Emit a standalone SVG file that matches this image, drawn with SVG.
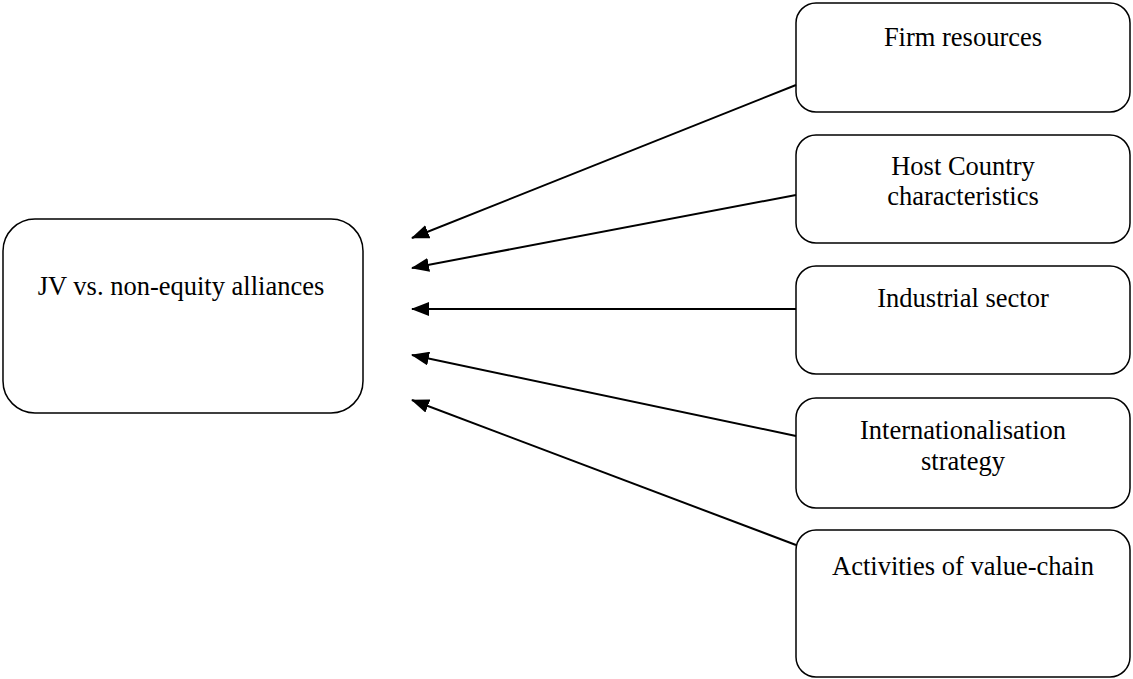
<svg xmlns="http://www.w3.org/2000/svg" width="1133" height="679" viewBox="0 0 1133 679">
<style>
.box{fill:#fff;stroke:#000;stroke-width:1.5}
.t{font-family:"Liberation Serif",serif;font-size:26.5px;fill:#000;text-anchor:middle}
.c{stroke:#000;stroke-width:2;fill:none;marker-end:url(#ah)}
</style>
<defs>
<marker id="ah" markerWidth="18" markerHeight="14" refX="17" refY="7" orient="auto" markerUnits="userSpaceOnUse">
<path d="M0,0 L18,7 L0,14 Z" fill="#000"/>
</marker>
</defs>
<rect width="1133" height="679" fill="#fff"/>
<g id="jv"><rect class="box" x="3" y="219" width="360" height="194" rx="32"/><text class="t" x="181" y="295">JV vs. non-equity alliances</text></g>
<g id="firm"><rect class="box" x="796" y="3" width="334" height="109" rx="20"/><text class="t" x="963" y="46">Firm resources</text></g>
<g id="host"><rect class="box" x="796" y="135" width="334" height="108" rx="20"/><text class="t" x="963" y="175">Host Country</text><text class="t" x="963" y="205">characteristics</text></g>
<g id="industrial"><rect class="box" x="796" y="266" width="334" height="108" rx="20"/><text class="t" x="963" y="307">Industrial sector</text></g>
<g id="intl"><rect class="box" x="796" y="398" width="334" height="110" rx="20"/><text class="t" x="963" y="439">Internationalisation</text><text class="t" x="963" y="470">strategy</text></g>
<g id="activities"><rect class="box" x="796" y="530" width="334" height="147" rx="20"/><text class="t" x="963" y="575">Activities of value-chain</text></g>
<g id="connectors">
<line class="c" x1="796" y1="85" x2="412" y2="238"/>
<line class="c" x1="796" y1="195" x2="412" y2="268"/>
<line class="c" x1="796" y1="309" x2="412" y2="309"/>
<line class="c" x1="796" y1="436" x2="412" y2="355"/>
<line class="c" x1="796" y1="545" x2="412" y2="400"/>
</g>
</svg>
